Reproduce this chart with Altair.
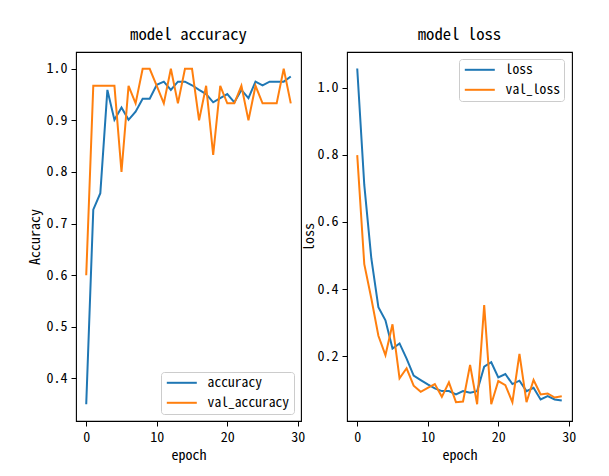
import altair as alt
import pandas as pd

epochs = list(range(30))
accuracy = [0.35, 0.727, 0.759, 0.959, 0.901, 0.925, 0.901, 0.917, 0.942, 0.942,
            0.969, 0.975, 0.959, 0.975, 0.975, 0.968, 0.959, 0.951, 0.935, 0.943,
            0.951, 0.935, 0.959, 0.943, 0.975, 0.968, 0.975, 0.975, 0.975, 0.985]
val_accuracy = [0.6, 0.967, 0.967, 0.967, 0.967, 0.8, 0.967, 0.933, 1.0, 1.0,
                0.967, 0.933, 1.0, 0.933, 1.0, 1.0, 0.9, 0.967, 0.833, 0.967,
                0.933, 0.933, 0.967, 0.9, 0.967, 0.933, 0.933, 0.933, 1.0, 0.933]
loss = [1.057, 0.71, 0.491, 0.346, 0.307, 0.223, 0.238, 0.193, 0.142, 0.129,
        0.116, 0.104, 0.096, 0.096, 0.086, 0.096, 0.091, 0.096, 0.169, 0.182,
        0.137, 0.147, 0.117, 0.127, 0.096, 0.106, 0.071, 0.081, 0.071, 0.068]
val_loss = [0.799, 0.474, 0.372, 0.261, 0.203, 0.295, 0.134, 0.164, 0.112, 0.094,
            0.106, 0.117, 0.079, 0.122, 0.063, 0.065, 0.174, 0.057, 0.352, 0.057,
            0.126, 0.114, 0.063, 0.207, 0.063, 0.129, 0.086, 0.089, 0.077, 0.081]

acc_df = pd.DataFrame({
    "epoch": epochs * 2,
    "value": accuracy + val_accuracy,
    "series": ["accuracy"] * 30 + ["val_accuracy"] * 30,
})
loss_df = pd.DataFrame({
    "epoch": epochs * 2,
    "value": loss + val_loss,
    "series": ["loss"] * 30 + ["val_loss"] * 30,
})

FONT = "Noto Sans Mono CJK SC, DejaVu Sans Mono, monospace"
BLUE = "#1f77b4"
ORANGE = "#ff7f0e"

def legend(lx, ly):
    return alt.Legend(
        title=None, orient="none", legendX=lx, legendY=ly,
        symbolType="M-1,0H5", symbolSize=100, symbolStrokeWidth=2,
        labelFont=FONT, labelFontSize=13.6, labelColor="black",
        labelOffset=29, rowPadding=5,
        strokeColor="#cccccc", fillColor="white", cornerRadius=3,
        padding=4,
    )

def xaxis():
    return alt.Axis(values=[0, 10, 20, 30], title="epoch")

acc = alt.Chart(acc_df, title=alt.Title("model accuracy")).mark_line(strokeWidth=2).encode(
    x=alt.X("epoch:Q", scale=alt.Scale(domain=[-1.45, 30.45], nice=False, zero=False), axis=xaxis()),
    y=alt.Y("value:Q", scale=alt.Scale(domain=[0.3175, 1.0325], nice=False, zero=False),
            axis=alt.Axis(values=[0.4, 0.5, 0.6, 0.7, 0.8, 0.9, 1.0], format=".1f", title="Accuracy")),
    color=alt.Color("series:N", scale=alt.Scale(domain=["accuracy", "val_accuracy"], range=[BLUE, ORANGE]),
                    legend=legend(85, 320)),
).properties(width=225, height=369)

lo = alt.Chart(loss_df, title=alt.Title("model loss")).mark_line(strokeWidth=2).encode(
    x=alt.X("epoch:Q", scale=alt.Scale(domain=[-1.45, 30.45], nice=False, zero=False), axis=xaxis()),
    y=alt.Y("value:Q", scale=alt.Scale(domain=[0.007, 1.106], nice=False, zero=False),
            axis=alt.Axis(values=[0.2, 0.4, 0.6, 0.8, 1.0], format=".1f", title="loss",
                          titlePadding=1, labelPadding=4)),
    color=alt.Color("series:N", scale=alt.Scale(domain=["loss", "val_loss"], range=[BLUE, ORANGE]),
                    legend=legend(112, 7)),
).properties(width=225, height=369)

chart = alt.hconcat(acc, lo, spacing=46, bounds="flush").resolve_scale(color="independent").properties(
    padding={"left": 19, "top": 18, "right": 5, "bottom": 5},
    background="white",
).configure_view(stroke="black", strokeWidth=1.1).configure_axis(
    grid=False, domain=False, tickColor="black", tickSize=5, tickWidth=1,
    labelFont=FONT, labelFontSize=14, labelColor="black", labelPadding=4,
    titleFont=FONT, titleFontSize=14, titleFontWeight="normal", titleColor="black",
).configure_title(font=FONT, fontSize=16.7, fontWeight="normal", color="black", offset=8)

chart.save("out.html", embed_options={"renderer": "svg", "actions": False})
